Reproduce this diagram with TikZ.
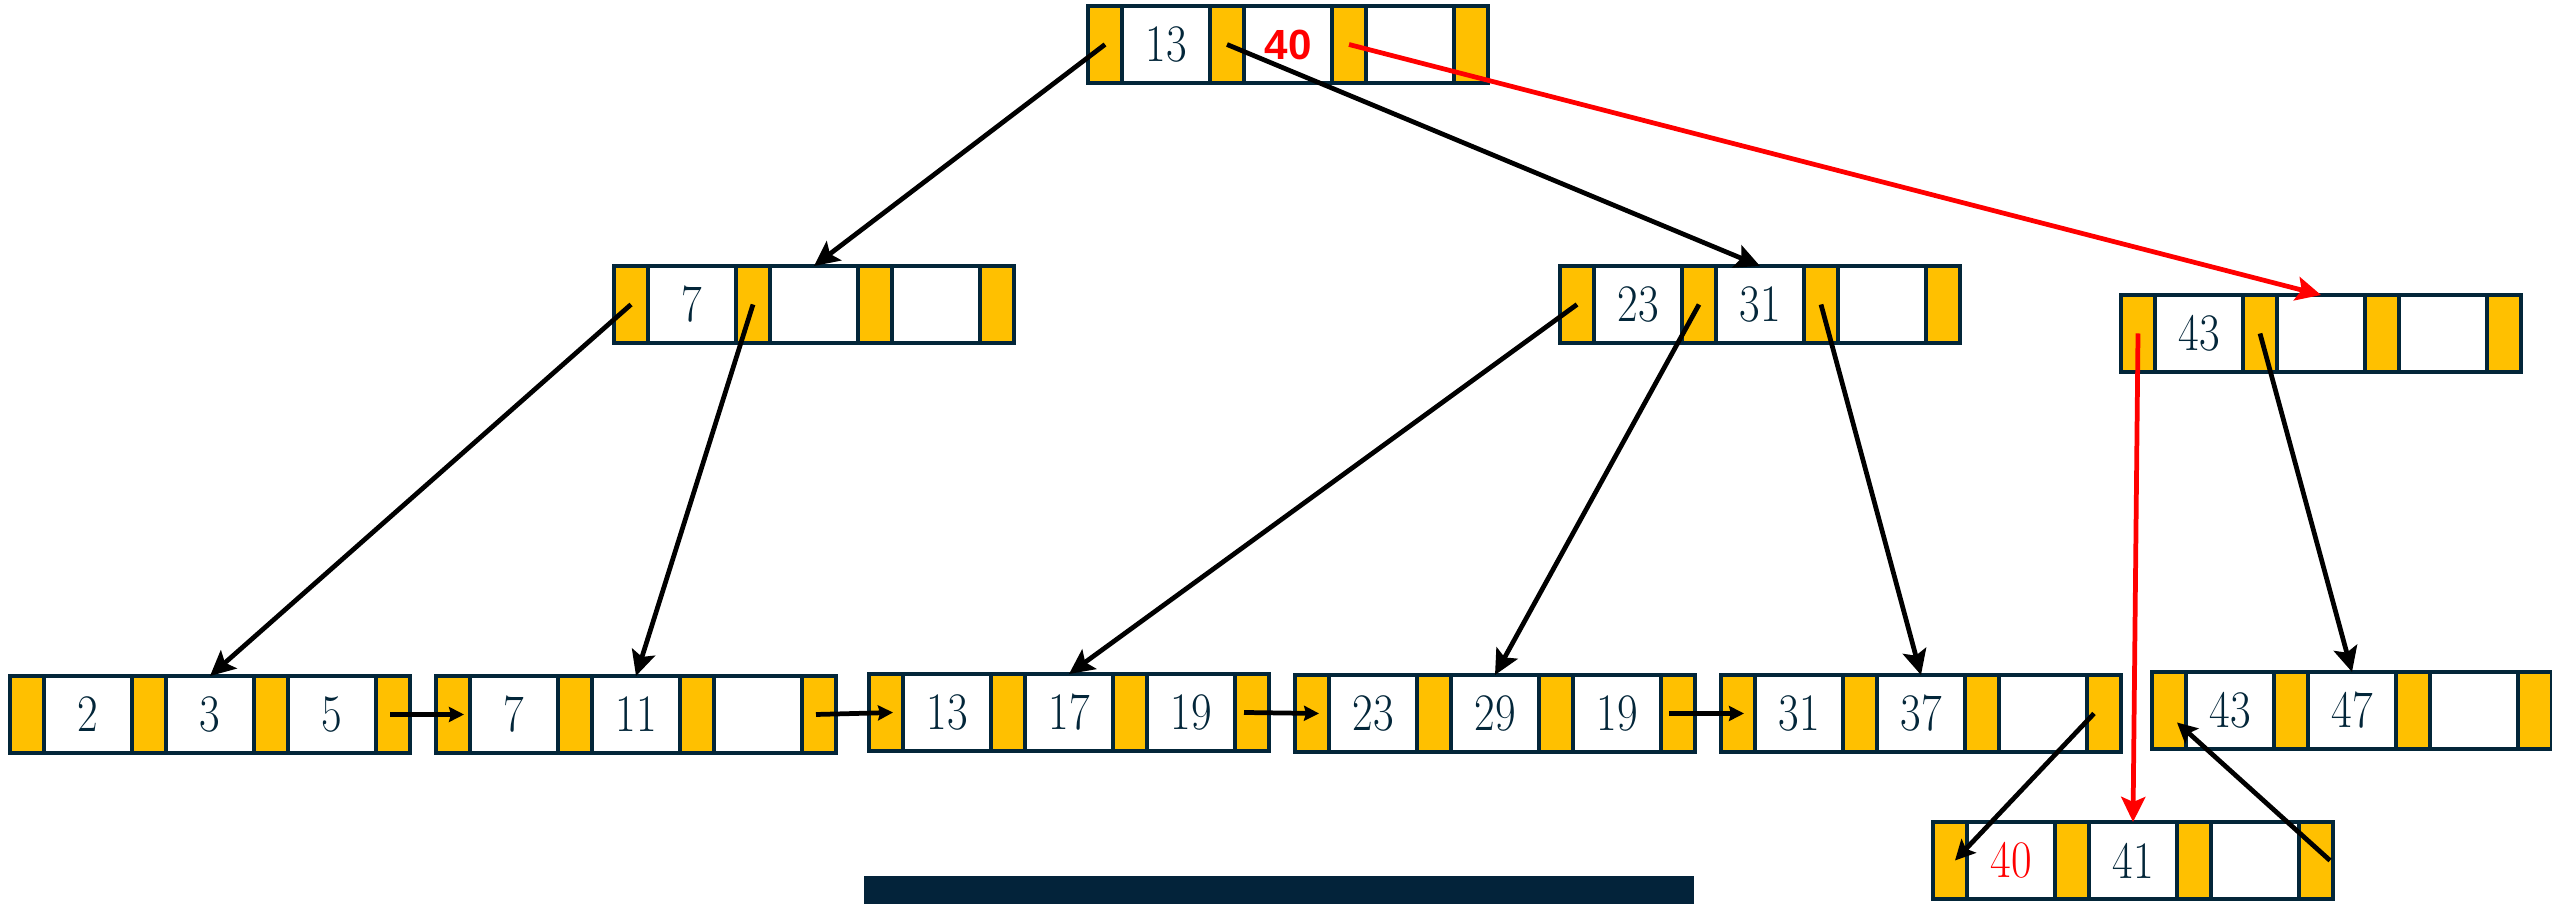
\documentclass[tikz,border=0pt]{standalone}
\usepackage{fontspec}
\usepackage{graphicx}
\usetikzlibrary{arrows.meta,calc}

\newfontfamily\labelsans{Liberation Sans}
\definecolor{navy}{HTML}{032639}
\definecolor{gold}{HTML}{FFC000}
\definecolor{hotred}{HTML}{FF0000}
\definecolor{barnavy}{HTML}{03233A}

% condensed key digits
\newcommand\kt[1]{\scalebox{0.85}[1]{#1}}

\tikzset{
  cell/.style={draw=navy, line width=1.1pt, inner sep=0pt, outer sep=0pt,
               minimum height=0.77cm, anchor=north west},
  ptrcell/.style={cell, fill=gold, minimum width=0.34cm},
  keycell/.style={cell, fill=white, minimum width=0.88cm, text=navy,
                  font=\fontsize{15}{17}\selectfont},
  child/.style={draw=black, line width=1.35pt,
                -{Stealth[length=0.25cm,width=0.24cm,inset=0.05cm]}},
  newchild/.style={child, draw=hotred},
  sibling/.style={draw=black, line width=1.35pt,
                  -{Stealth[length=0.15cm,width=0.15cm,inset=0.02cm]}},
  relink/.style={draw=black, line width=1.35pt,
                 -{Stealth[length=0.2cm,width=0.2cm,inset=0.04cm]}},
}

% B+ tree node: pointer/key/pointer/key/pointer/key/pointer
% #1 name, #2 left x, #3 top y, #4-#6 keys
\newcommand\bplusnode[6]{%
  \begin{scope}[shift={(#2,#3)}]
    \node[ptrcell] (#1-p0) at (0,0)   {};
    \node[keycell] (#1-k1) at (34,0)  {#4};
    \node[ptrcell] (#1-p1) at (122,0) {};
    \node[keycell] (#1-k2) at (156,0) {#5};
    \node[ptrcell] (#1-p2) at (244,0) {};
    \node[keycell] (#1-k3) at (278,0) {#6};
    \node[ptrcell] (#1-p3) at (366,0) {};
  \end{scope}}

\begin{document}
\begin{tikzpicture}[x=0.1mm, y=-0.1mm]
  \useasboundingbox (0,0) rectangle (2552,904);

  % root
  \bplusnode{root}{1088}{6}{\kt{13}}{\labelsans\bfseries\fontsize{12}{14}\selectfont\color{hotred}40}{}

  % inner level
  \bplusnode{L2a}{614}{266}{\kt{7}}{}{}
  \bplusnode{L2b}{1560}{266}{\kt{23}}{\kt{31}}{}
  \bplusnode{L2c}{2121}{295}{\kt{43}}{}{}

  % leaves
  \bplusnode{leaf1}{10}{676}{\kt{2}}{\kt{3}}{\kt{5}}
  \bplusnode{leaf2}{436}{676}{\kt{7}}{\kt{11}}{}
  \bplusnode{leaf3}{869}{674}{\kt{13}}{\kt{17}}{\kt{19}}
  \bplusnode{leaf4}{1295}{675}{\kt{23}}{\kt{29}}{\kt{19}}
  \bplusnode{leaf5}{1721}{675}{\kt{31}}{\kt{37}}{}
  \bplusnode{leaf6}{2152}{672}{\kt{43}}{\kt{47}}{}
  \bplusnode{split}{1933}{822}{\kt{\textcolor{hotred}{40}}}{\kt{41}}{}

  % bar
  \fill[barnavy] (864,876) rectangle (1694,904);

  % child pointers
  \draw[child]    (root-p0.center) -- (L2a-k2.north);
  \draw[child]    (root-p1.center) -- (L2b-k2.north);
  \draw[newchild] (root-p2.center) -- (L2c-k2.north);
  \draw[child]    (L2a-p0.center) -- (leaf1-k2.north);
  \draw[child]    (L2a-p1.center) -- (leaf2-k2.north);
  \draw[child]    (L2b-p0.center) -- (leaf3-k2.north);
  \draw[child]    (L2b-p1.center) -- (leaf4-k2.north);
  \draw[child]    (L2b-p2.center) -- (leaf5-k2.north);
  \draw[newchild] (L2c-p0.center) -- (split-k2.north);
  \draw[child]    (L2c-p1.center) -- (leaf6-k2.north);

  % leaf chain
  \draw[sibling] ($(leaf1-p3.center)+(-3,0)$) -- ($(leaf2-p0.east)+(-6,0)$);
  \draw[sibling] ($(leaf2-p3.center)+(-3,0)$) -- ($(leaf3-p0.east)+(-10,0)$);
  \draw[sibling] ($(leaf3-p3.center)+(-8,0)$) -- ($(leaf4-p0.east)+(-10,0)$);
  \draw[sibling] ($(leaf4-p3.center)+(-9,0)$) -- ($(leaf5-p0.east)+(-11,0)$);
  \draw[relink]  ($(leaf5-p3.center)+(-10,0)$) -- ($(split-p0.center)+(5,0)$);
  \draw[relink]  ($(split-p3.east)+(-3,0)$) -- ($(leaf6-p0.center)+(8,12)$);
\end{tikzpicture}
\end{document}
